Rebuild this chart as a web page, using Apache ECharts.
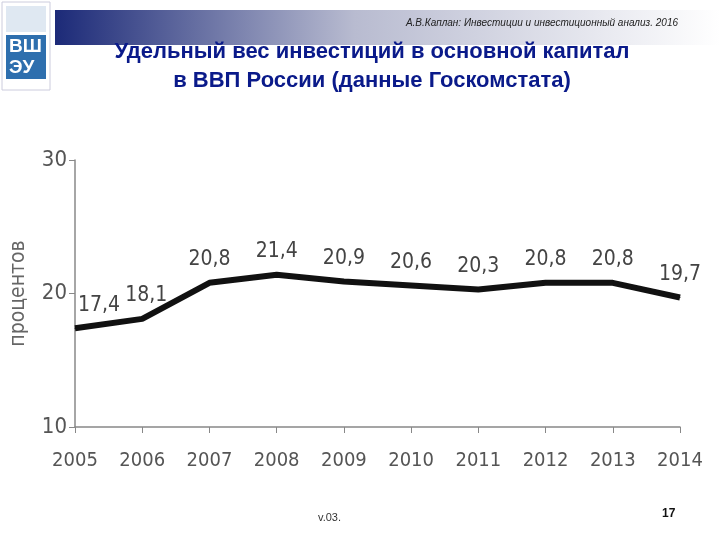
<!DOCTYPE html>
<html>
<head>
<meta charset="utf-8">
<script src="https://cdn.jsdelivr.net/npm/echarts@6/dist/echarts.min.js"></script>
<style>body{margin:0;background:#fff}#chart{width:720px;height:540px}</style>
</head>
<body>
<div id="chart"></div>
<script>
const years = ['2005','2006','2007','2008','2009','2010','2011','2012','2013','2014'];
const shares = [17.4, 18.1, 20.8, 21.4, 20.9, 20.6, 20.3, 20.8, 20.8, 19.7];
const labelText = ['17,4','18,1','20,8','21,4','20,9','20,6','20,3','20,8','20,8','19,7'];

const narrow = '"Liberation Sans Narrow", "Arial Narrow", "DejaVu Sans Condensed", sans-serif';
const chart = echarts.init(document.getElementById('chart'));

chart.setOption({
  backgroundColor: '#fff',
  animation: false,
  graphic: [
    {
      type: 'rect', shape: { x: 55, y: 10, width: 665, height: 35 },
      style: { fill: new echarts.graphic.LinearGradient(0, 0, 1, 0, [
        { offset: 0, color: '#1c2a78' }, { offset: 0.45, color: '#b8bbd0' }, { offset: 1, color: '#ffffff' }
      ]) }
    },
    { type: 'rect', shape: { x: 2, y: 2, width: 48, height: 88 }, style: { fill: '#fff', stroke: '#ccd', lineWidth: 1 } },
    { type: 'rect', shape: { x: 6, y: 6, width: 40, height: 26 }, style: { fill: '#dfe8f2' } },
    { type: 'rect', shape: { x: 6, y: 35, width: 40, height: 44 }, style: { fill: '#2e6fae' } },
    { type: 'text', left: 9, top: 36, style: { text: 'ВШ\nЭУ', fill: '#fff', font: 'bold 19px sans-serif', lineHeight: 21 } },
    { type: 'text', right: 42, top: 18, style: { text: 'А.В.Каплан: Инвестиции и инвестиционный анализ. 2016', fill: '#222', font: 'italic 10px "Liberation Sans", sans-serif' } },
    { type: 'text', x: 372, y: 37, style: { text: 'Удельный вес инвестиций в основной капитал\nв ВВП России (данные Госкомстата)', align: 'center', fill: '#0a1a8a', font: 'bold 22px "Liberation Sans", Arial, sans-serif', lineHeight: 29 } },
    { type: 'text', left: 318, top: 512, style: { text: 'v.03.', fill: '#333', font: '11px sans-serif' } },
    { type: 'text', left: 662, top: 508, style: { text: '17', fill: '#111', font: 'bold 12px sans-serif' } }
  ],
  grid: { left: 70, right: 40, top: 160, bottom: 113 },
  xAxis: {
    type: 'category', data: years, boundaryGap: false,
    axisLine: { lineStyle: { color: '#888', width: 1.5 } },
    axisTick: { show: true, length: 6, interval: 0, lineStyle: { color: '#888' } },
    axisLabel: { color: '#555', fontSize: 20, fontFamily: narrow, margin: 24, interval: 0 },
    splitLine: { show: false }
  },
  yAxis: {
    type: 'value', min: 10, max: 30, interval: 10,
    name: 'процентов', nameLocation: 'middle', nameGap: 46, nameRotate: 90,
    nameTextStyle: { color: '#666', fontSize: 21, fontFamily: narrow },
    axisLine: { show: true, lineStyle: { color: '#888', width: 1.5 } },
    axisTick: { show: true, length: 6, lineStyle: { color: '#888' } },
    axisLabel: { color: '#555', fontSize: 22, fontFamily: narrow, margin: 8 },
    splitLine: { show: false }
  },
  series: [{
    type: 'line', symbol: 'circle', symbolSize: 1, showSymbol: true,
    data: shares.map((v, i) => i === 0 ? { value: v, label: { offset: [24, 0] } }
      : i === 1 ? { value: v, label: { offset: [4, 0] } } : v),
    itemStyle: { color: '#111' },
    lineStyle: { color: '#111', width: 6 },
    label: {
      show: true, position: 'top', distance: 12, color: '#444', fontSize: 21, fontFamily: narrow,
      formatter: p => labelText[p.dataIndex]
    }
  }]
});
</script>
</body>
</html>
